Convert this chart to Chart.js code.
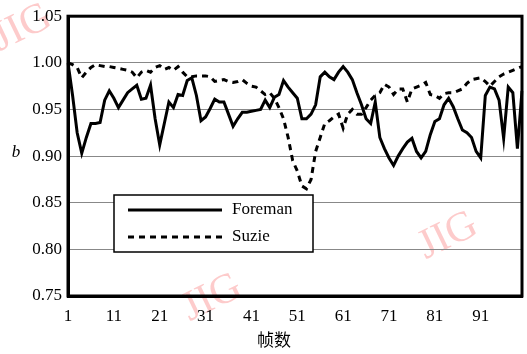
<!DOCTYPE html>
<html>
<head>
<meta charset="utf-8">
<script src="https://cdn.jsdelivr.net/npm/chart.js@4.4.1/dist/chart.umd.min.js"></script>
<style>
  html, body { margin: 0; padding: 0; background: #fff; }
  #wrap { width: 527px; height: 354px; position: relative; }
</style>
</head>
<body>
<div id="wrap"><canvas id="chart"></canvas></div>
<script>
// frame numbers 1..100
const frames = Array.from({ length: 100 }, (_, i) => String(i + 1));
const tickLabels = ['1', '11', '21', '31', '41', '51', '61', '71', '81', '91'];

const foreman = [
    1.000, 0.965, 0.925, 0.903, 0.920, 0.935, 0.935, 0.936, 0.960, 0.970,
    0.962, 0.952, 0.960, 0.968, 0.972, 0.976, 0.961, 0.962, 0.976, 0.940,
    0.912, 0.935, 0.958, 0.952, 0.966, 0.965, 0.981, 0.984, 0.965, 0.938,
    0.942, 0.951, 0.961, 0.958, 0.958, 0.945, 0.932, 0.940, 0.947, 0.947,
    0.948, 0.949, 0.950, 0.960, 0.952, 0.963, 0.966, 0.981, 0.974, 0.968,
    0.962, 0.940, 0.940, 0.945, 0.955, 0.985, 0.990, 0.985, 0.982, 0.990,
    0.996, 0.990, 0.982, 0.968, 0.955, 0.940, 0.935, 0.958, 0.920, 0.908,
    0.898, 0.890, 0.900, 0.908, 0.915, 0.919, 0.905, 0.898, 0.905, 0.923,
    0.937, 0.940, 0.955, 0.962, 0.953, 0.940, 0.928, 0.925, 0.920, 0.905,
    0.898, 0.965, 0.974, 0.972, 0.960, 0.919, 0.974, 0.968, 0.908, 0.970
];

const suzie = [
    1.000, 0.998, 0.995, 0.984, 0.990, 0.995, 0.998, 0.997, 0.996, 0.996,
    0.995, 0.994, 0.993, 0.992, 0.990, 0.984, 0.990, 0.992, 0.990, 0.995,
    0.997, 0.993, 0.995, 0.992, 0.996, 0.990, 0.985, 0.985, 0.986, 0.986,
    0.986, 0.985, 0.980, 0.981, 0.982, 0.980, 0.979, 0.980, 0.982, 0.978,
    0.975, 0.974, 0.970, 0.966, 0.968, 0.962, 0.952, 0.940, 0.920, 0.895,
    0.884, 0.868, 0.865, 0.875, 0.905, 0.920, 0.935, 0.938, 0.942, 0.945,
    0.930, 0.945, 0.950, 0.945, 0.945, 0.952, 0.960, 0.965, 0.968, 0.977,
    0.974, 0.966, 0.972, 0.972, 0.958, 0.972, 0.974, 0.976, 0.979, 0.966,
    0.965, 0.962, 0.967, 0.968, 0.968, 0.970, 0.972, 0.978, 0.982, 0.983,
    0.984, 0.980, 0.975, 0.980, 0.985, 0.988, 0.990, 0.992, 0.994, 0.996
];

const SERIF = '"Liberation Serif", "Times New Roman", serif';

// frame border, axis titles, legend box and watermark
const decorations = {
    id: 'decorations',
    beforeDraw(chart) {
        const ctx = chart.ctx;
        ctx.save();
        ctx.fillStyle = 'rgba(250, 140, 140, 0.45)';
        ctx.font = '42px ' + SERIF;
        [[22, 28], [212, 298], [448, 236]].forEach(([x, y]) => {
            ctx.save();
            ctx.translate(x, y);
            ctx.rotate(-0.45);
            ctx.textAlign = 'center';
            ctx.textBaseline = 'middle';
            ctx.fillText('JIG', 0, 0);
            ctx.restore();
        });
        ctx.restore();
    },
    afterDraw(chart) {
        const ctx = chart.ctx;
        const a = chart.chartArea;
        ctx.save();
        ctx.strokeStyle = '#000';
        ctx.lineWidth = 3;
        ctx.strokeRect(a.left, a.top, a.right - a.left, a.bottom - a.top);

        // axis titles
        ctx.fillStyle = '#000';
        ctx.textAlign = 'center';
        ctx.textBaseline = 'middle';
        ctx.font = 'italic 17px ' + SERIF;
        ctx.fillText('b', 16, 153);
        ctx.font = '17px "Noto Sans CJK SC", sans-serif';
        ctx.fillText('帧数', 274, 340);

        // legend
        const box = { x: 114, y: 195, w: 199, h: 57 };
        ctx.fillStyle = '#fff';
        ctx.fillRect(box.x, box.y, box.w, box.h);
        ctx.lineWidth = 1.5;
        ctx.strokeRect(box.x, box.y, box.w, box.h);
        chart.data.datasets.forEach((ds, i) => {
            const y = 210 + i * 27;
            ctx.beginPath();
            ctx.strokeStyle = ds.borderColor;
            ctx.lineWidth = ds.borderWidth;
            ctx.setLineDash(ds.borderDash || []);
            ctx.moveTo(128, y);
            ctx.lineTo(222, y);
            ctx.stroke();
            ctx.setLineDash([]);
            ctx.fillStyle = '#000';
            ctx.textAlign = 'left';
            ctx.font = '17px ' + SERIF;
            ctx.fillText(ds.label, 232, y);
        });
        ctx.restore();
    }
};

new Chart(document.getElementById('chart'), {
    type: 'line',
    data: {
        labels: frames,
        datasets: [
            {
                label: 'Foreman',
                data: foreman,
                borderColor: '#000',
                borderWidth: 3,
                pointRadius: 0,
                tension: 0
            },
            {
                label: 'Suzie',
                data: suzie,
                borderColor: '#000',
                borderWidth: 3,
                borderDash: [6, 5],
                pointRadius: 0,
                tension: 0
            }
        ]
    },
    options: {
        responsive: true,
        maintainAspectRatio: false,
        animation: false,
        layout: { padding: { top: 8, right: 5, left: 0, bottom: 0 } },
        plugins: {
            legend: { display: false },
            tooltip: { enabled: false }
        },
        scales: {
            x: {
                type: 'category',
                offset: false,
                grid: { display: false, drawTicks: false },
                border: { display: true, color: '#000', width: 3 },
                ticks: {
                    autoSkip: false,
                    maxRotation: 0,
                    padding: 10,
                    color: '#000',
                    font: { family: SERIF, size: 17 },
                    callback: function (value, index) {
                        const lbl = this.getLabelForValue(value);
                        return tickLabels.includes(lbl) ? lbl : null;
                    }
                },
                afterFit: (scale) => { scale.height = 58; }
            },
            y: {
                min: 0.75,
                max: 1.05,
                grid: { color: '#888', lineWidth: 1, drawTicks: false },
                border: { display: true, color: '#000', width: 3 },
                ticks: {
                    stepSize: 0.05,
                    padding: 6,
                    color: '#000',
                    font: { family: SERIF, size: 17 },
                    callback: (v) => v.toFixed(2)
                },
                afterFit: (scale) => { scale.width = 68; }
            }
        }
    },
    plugins: [decorations]
});
</script>
</body>
</html>
